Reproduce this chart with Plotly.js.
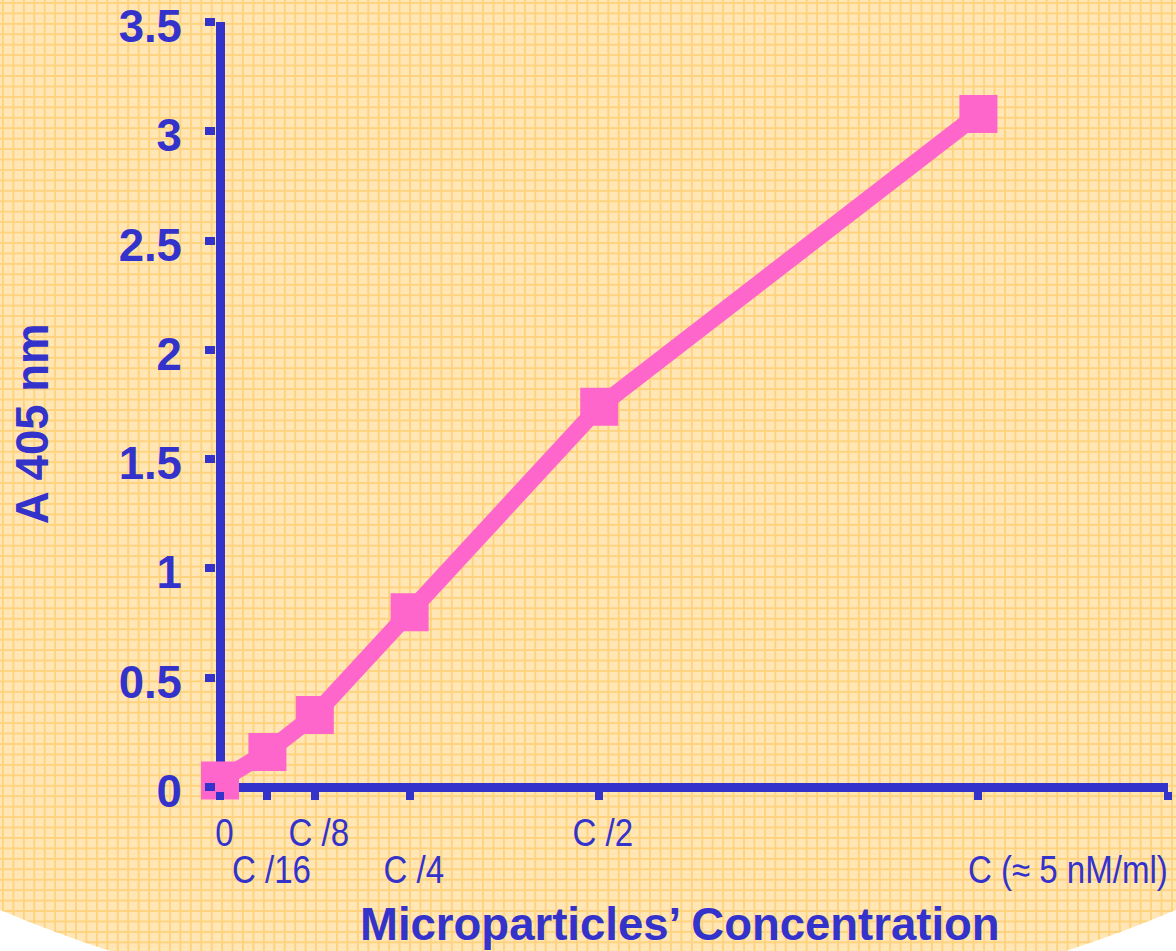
<!DOCTYPE html>
<html>
<head>
<meta charset="utf-8">
<script src="https://cdn.plot.ly/plotly-3.0.1.min.js"></script>
<style>
  html, body { margin: 0; padding: 0; width: 1176px; height: 951px; overflow: hidden; background: #ffffff; }
  #bg {
    position: absolute; left: 0; top: 0; width: 1176px; height: 951px;
    background-color: #FFE6B4;
    background-image:
      linear-gradient(to right, #FFD27E 1.5px, transparent 1.5px),
      linear-gradient(to bottom, #FFD27E 1.5px, transparent 1.5px);
    background-size: 10.45px 10.45px;
    background-position: 2px 2px;
    clip-path: ellipse(1023px 623px at 588px 400px);
  }
  #chart { position: absolute; left: 0; top: 0; width: 1176px; height: 951px; }
</style>
</head>
<body>
<div id="bg"></div>
<div id="chart"></div>
<script>
// ---- data ----
const concentration = [0, 1/16, 1/8, 1/4, 1/2, 1];          // fraction of C
const absorbance    = [0.03, 0.16, 0.33, 0.80, 1.74, 3.08];  // A 405 nm
const xTickValues   = [0, 1/16, 1/8, 1/4, 1/2, 1, 1.25];
const xTickLabels   = ["0", "C /16", "C /8", "C /4", "C /2", "C (\u2248 5 nM/ml)"];
const xLabelRow     = [1, 2, 1, 2, 1, 2];
const yTickValues   = [0, 0.5, 1, 1.5, 2, 2.5, 3, 3.5];
const yTickLabels   = ["0", "0.5", "1", "1.5", "2", "2.5", "3", "3.5"];
const xTitle = "Microparticles\u2019 Concentration";
const yTitle = "A 405 nm";

const BLUE = "#3333CC";
const PINK = "#FF66CC";
const narrow = "'Liberation Sans Narrow', 'Arial Narrow', 'Liberation Sans', Arial, sans-serif";
const bold = "'Liberation Sans', Arial, sans-serif";
const NARROW_SCALE = 0.87;

const trace = {
  x: concentration, y: absorbance, type: "scatter", mode: "lines+markers",
  line: { color: PINK, width: 17 },
  marker: { symbol: "square", size: 38, color: PINK, line: { width: 0 } },
  hoverinfo: "x+y", cliponaxis: false
};

const nTickLabels = xTickLabels.length;
const annotations = xTickLabels.map((t, i) => {
  const last = i === nTickLabels - 1;
  return {
    text: t, x: last ? xTickValues[xTickValues.length - 1] : xTickValues[i], xref: "x",
    y: 0, yref: "paper", yanchor: "middle", xanchor: last ? "right" : "center",
    xshift: last ? 2 : 4, yshift: xLabelRow[i] === 1 ? -42 : -79,
    showarrow: false, font: { family: narrow, size: 38, color: BLUE }
  };
});
annotations.push({
  text: "<b>" + xTitle + "</b>", x: 0.487, xref: "paper", y: 0, yref: "paper",
  xanchor: "center", yanchor: "middle", yshift: -133, showarrow: false,
  font: { family: bold, size: 45.5, color: BLUE }
});
annotations.push({
  text: "<b>" + yTitle + "</b>", x: 0, xref: "paper", xshift: -184, y: 0.477, yref: "paper",
  xanchor: "center", yanchor: "middle", textangle: -90, showarrow: false,
  font: { family: bold, size: 45.5, color: BLUE }
});

const layout = {
  width: 1176, height: 951,
  margin: { l: 216, r: 8, t: 22, b: 160 },
  paper_bgcolor: "rgba(0,0,0,0)", plot_bgcolor: "rgba(0,0,0,0)",
  showlegend: false,
  xaxis: {
    range: [-0.00527, 1.25], tickmode: "array", tickvals: xTickValues,
    showticklabels: false, ticks: "outside", ticklen: 8, tickwidth: 8, tickcolor: BLUE,
    showgrid: false, showline: false, zeroline: true, zerolinecolor: BLUE, zerolinewidth: 9,
    fixedrange: true
  },
  yaxis: {
    range: [-0.0183, 3.5005], tickmode: "array", tickvals: yTickValues, ticktext: yTickLabels,
    ticks: "outside", ticklen: 10, tickwidth: 8, tickcolor: BLUE, ticklabelstandoff: 14,
    ticklabelshift: 4, ticklabeloverflow: "allow",
    tickfont: { family: bold, size: 45.5, color: BLUE, weight: "bold" },
    showgrid: false, showline: false, zeroline: true, zerolinecolor: BLUE, zerolinewidth: 9,
    fixedrange: true
  },
  annotations: annotations
};

Plotly.newPlot("chart", [trace], layout, { displayModeBar: false, staticPlot: true }).then(gd => {
  // narrow (condensed) look for the x tick-label annotations
  gd.querySelectorAll("g.annotation").forEach(g => {
    const idx = +g.getAttribute("data-index");
    if (idx < nTickLabels) {
      const txt = g.querySelector("text.annotation-text");
      if (!txt) return;
      txt.style.transformBox = "fill-box";
      txt.style.transformOrigin = idx === nTickLabels - 1 ? "right center" : "center center";
      txt.style.transform = "scaleX(" + NARROW_SCALE + ")";
    }
  });
});
</script>
</body>
</html>
